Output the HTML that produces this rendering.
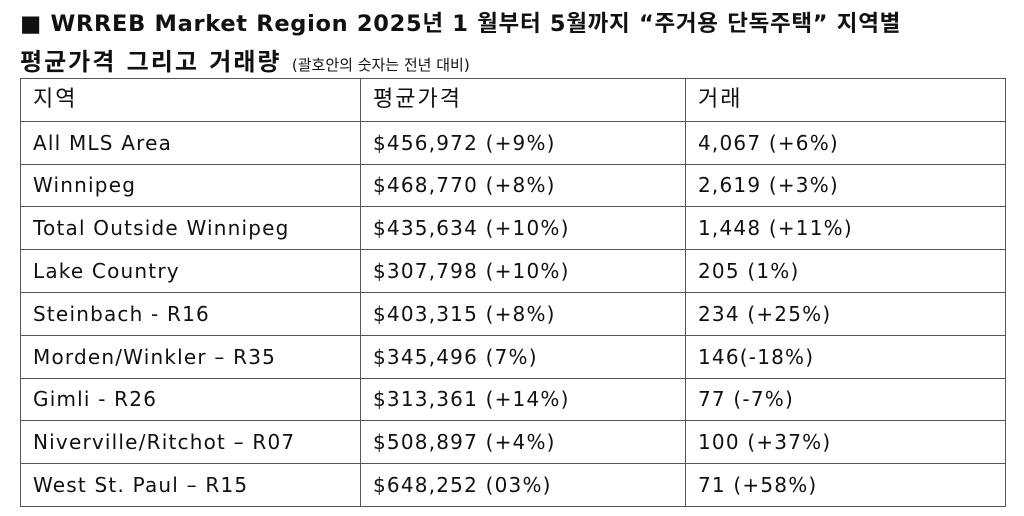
<!DOCTYPE html>
<html><head><meta charset="utf-8"><style>
body{margin:0;width:1024px;height:516px;background:#fff;position:relative;overflow:hidden;font-family:"DejaVu Sans","Noto Sans CJK KR",sans-serif;color:#111}
.t{position:absolute;left:20px;font-weight:bold;font-size:22.5px;white-space:nowrap;letter-spacing:0.7px}
.k{font-size:24px;letter-spacing:2px}
.s{font-weight:normal;font-size:15px;letter-spacing:0}
table{position:absolute;left:20px;top:78px;border-collapse:collapse;width:986px}
td{border:1.5px solid #555;height:41.3px;padding:0 0 0 12px;font-size:20px;white-space:nowrap;line-height:1;letter-spacing:1.2px}
td.h{font-size:22px;letter-spacing:2px}
tr{height:42.8px}
</style></head><body>
<div class="t" style="top:6px">■ WRREB Market Region 2025년 1 월부터 5월까지 “주거용 단독주택” 지역별</div>
<div class="t k" style="top:42px">평균가격 그리고 거래량 <span class="s">(괄호안의 숫자는 전년 대비)</span></div>
<table>
<colgroup><col style="width:340px"><col style="width:325px"><col></colgroup>
<tr><td class="h">지역</td><td class="h">평균가격</td><td class="h">거래</td></tr>
<tr><td>All MLS Area</td><td>$456,972 (+9%)</td><td>4,067 (+6%)</td></tr>
<tr><td>Winnipeg</td><td>$468,770 (+8%)</td><td>2,619 (+3%)</td></tr>
<tr><td>Total Outside Winnipeg</td><td>$435,634 (+10%)</td><td>1,448 (+11%)</td></tr>
<tr><td>Lake Country</td><td>$307,798 (+10%)</td><td>205 (1%)</td></tr>
<tr><td>Steinbach - R16</td><td>$403,315 (+8%)</td><td>234 (+25%)</td></tr>
<tr><td>Morden/Winkler – R35</td><td>$345,496 (7%)</td><td>146(-18%)</td></tr>
<tr><td>Gimli - R26</td><td>$313,361 (+14%)</td><td>77 (-7%)</td></tr>
<tr><td>Niverville/Ritchot – R07</td><td>$508,897 (+4%)</td><td>100 (+37%)</td></tr>
<tr><td>West St. Paul – R15</td><td>$648,252 (03%)</td><td>71 (+58%)</td></tr>
</table>
</body></html>
